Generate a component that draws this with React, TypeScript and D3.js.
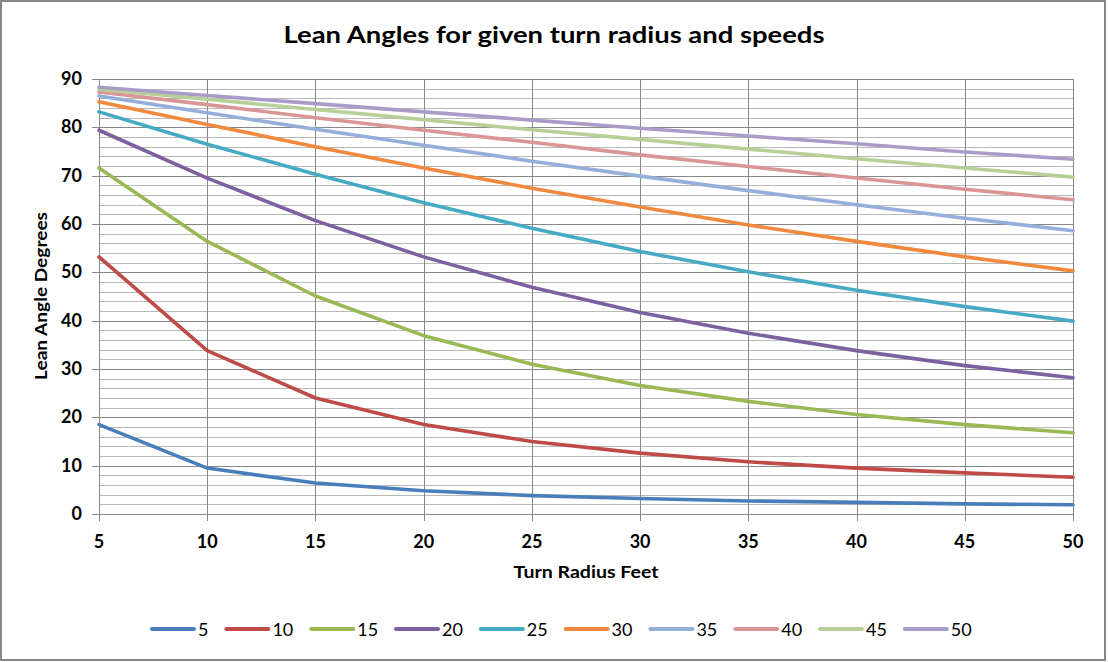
import React from "react";
import * as d3 from "d3";

const radii = [5, 10, 15, 20, 25, 30, 35, 40, 45, 50];
const speeds = ["5", "10", "15", "20", "25", "30", "35", "40", "45", "50"];
const yTicks = [0, 10, 20, 30, 40, 50, 60, 70, 80, 90];

const s5 = [18.5, 9.5, 6.4, 4.8, 3.8, 3.2, 2.7, 2.4, 2.1, 1.9];
const s10 = [53.2, 33.8, 24.0, 18.5, 15.0, 12.6, 10.8, 9.5, 8.5, 7.6];
const s15 = [71.6, 56.4, 45.1, 36.9, 31.0, 26.6, 23.3, 20.6, 18.5, 16.8];
const s20 = [79.4, 69.5, 60.7, 53.2, 46.9, 41.7, 37.4, 33.8, 30.7, 28.2];
const s25 = [83.2, 76.5, 70.3, 64.4, 59.1, 54.3, 50.1, 46.3, 42.9, 39.9];
const s30 = [85.3, 80.6, 76.0, 71.6, 67.4, 63.5, 59.8, 56.4, 53.2, 50.3];
const s35 = [86.5, 83.0, 79.6, 76.3, 73.0, 69.9, 66.9, 64.0, 61.2, 58.6];
const s40 = [87.3, 84.7, 82.0, 79.4, 76.9, 74.3, 71.9, 69.5, 67.2, 65.0];
const s45 = [87.9, 85.8, 83.7, 81.6, 79.5, 77.5, 75.5, 73.5, 71.6, 69.7];
const s50 = [88.3, 86.6, 84.9, 83.2, 81.5, 79.8, 78.2, 76.6, 74.9, 73.4];

const seriesValues = [s5, s10, s15, s20, s25, s30, s35, s40, s45, s50];
const colors = [
  "#4A7EBB",
  "#BE4B48",
  "#98B954",
  "#7D60A0",
  "#46AAC5",
  "#F0883E",
  "#95AEDA",
  "#D99694",
  "#B6D097",
  "#AA9CC8",
];

const W = 1108;
const H = 662;
const FONT = "Lato, 'Open Sans', 'DejaVu Sans', sans-serif";

export default function App() {
  const x = d3.scalePoint<number>().domain(radii).range([99, 1073]);
  const y = d3.scaleLinear().domain([0, 90]).range([514, 79]);
  const line = d3
    .line<number>()
    .x((_, i) => x(radii[i]) as number)
    .y((d) => y(d));

  const minor: number[] = d3.range(0, 91, 2).filter((v) => v % 10 !== 0);
  const crisp = (v: number) => Math.round(v) + 0.5;

  // legend layout
  const legendY = 629;
  const lineLen = 42;
  let lx = 152;
  const legendItems = speeds.map((s, i) => {
    const item = { s, i, x: lx };
    lx += lineLen + 4 + s.length * 10.4 + 18;
    return item;
  });

  return (
    <svg
      width={W}
      height={H}
      style={{ position: "absolute", left: 0, top: 0, background: "#fff" }}
      fontFamily={FONT}
    >
      <rect x={1} y={1} width={W - 4} height={H - 3} fill="#fff" stroke="#868686" strokeWidth={2} />

      {/* title */}
      <text
        x={554}
        y={43}
        textAnchor="middle"
        fontSize={22}
        fontWeight="bold"
        fill="#000"
        textLength={541}
        lengthAdjust="spacingAndGlyphs"
      >
        Lean Angles for given turn radius and speeds
      </text>

      {/* minor gridlines */}
      {minor.map((v) => (
        <line key={"m" + v} x1={99} x2={1073} y1={crisp(y(v))} y2={crisp(y(v))} stroke="#B9B9B9" strokeWidth={1} />
      ))}
      {/* major gridlines */}
      {yTicks.map((v) => (
        <line key={"M" + v} x1={92} x2={1073} y1={crisp(y(v))} y2={crisp(y(v))} stroke="#878787" strokeWidth={1} />
      ))}
      {/* vertical gridlines */}
      {radii.map((r) => (
        <line
          key={"v" + r}
          x1={crisp(x(r) as number)}
          x2={crisp(x(r) as number)}
          y1={79}
          y2={521}
          stroke="#878787"
          strokeWidth={1}
        />
      ))}

      {/* y labels */}
      {yTicks.map((v) => (
        <text key={"yl" + v} x={82} y={y(v) + 6} textAnchor="end" fontSize={18} fontWeight="bold" fill="#000">
          {v}
        </text>
      ))}
      {/* x labels */}
      {radii.map((r) => (
        <text key={"xl" + r} x={x(r) as number} y={548} textAnchor="middle" fontSize={18} fontWeight="bold" fill="#000">
          {r}
        </text>
      ))}

      {/* axis titles */}
      <text
        x={586}
        y={578}
        textAnchor="middle"
        fontSize={17}
        fontWeight="bold"
        textLength={145}
        lengthAdjust="spacingAndGlyphs"
      >
        Turn Radius Feet
      </text>
      <text
        transform="translate(47,296) rotate(-90)"
        textAnchor="middle"
        fontSize={17}
        fontWeight="bold"
        textLength={168}
        lengthAdjust="spacingAndGlyphs"
      >
        Lean Angle Degrees
      </text>

      {/* series lines */}
      {seriesValues.map((vals, i) => (
        <path
          key={"s" + i}
          d={line(vals) || ""}
          fill="none"
          stroke={colors[i]}
          strokeWidth={3.6}
          strokeLinejoin="round"
          strokeLinecap="round"
        />
      ))}

      {/* legend */}
      {legendItems.map((it) => (
        <g key={"lg" + it.s}>
          <line
            x1={it.x}
            x2={it.x + lineLen}
            y1={legendY}
            y2={legendY}
            stroke={colors[it.i]}
            strokeWidth={4}
            strokeLinecap="round"
          />
          <text x={it.x + lineLen + 4} y={legendY + 6.5} fontSize={18} fill="#000">
            {it.s}
          </text>
        </g>
      ))}
    </svg>
  );
}
